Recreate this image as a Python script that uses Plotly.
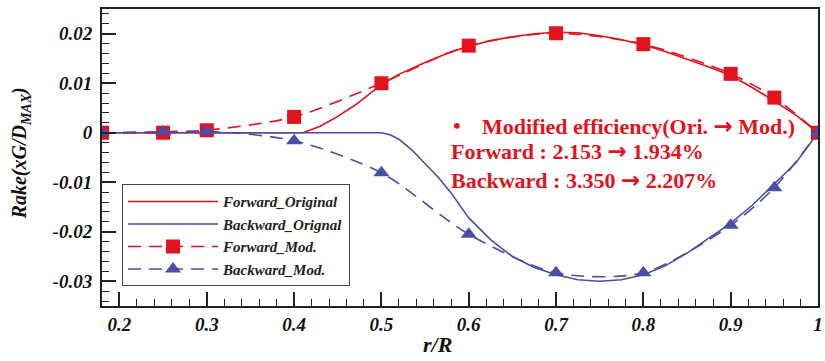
import plotly.graph_objects as go

# ---- data ----
r_mod = [0.18, 0.25, 0.3, 0.4, 0.5, 0.6, 0.7, 0.8, 0.9, 0.95, 1.0]
fwd_mod = [0.0, 0.0, 0.0005, 0.0032, 0.0100, 0.0176, 0.0201, 0.0179, 0.0119, 0.0071, 0.0]
bwd_mod = [0.0, 0.0002, 0.0003, -0.0016, -0.0081, -0.0205, -0.0283, -0.0283, -0.0187, -0.0111, 0.0]

r_fwd_orig = [0.18, 0.25, 0.3, 0.35, 0.41, 0.43, 0.45, 0.47, 0.49, 0.50, 0.52, 0.55, 0.575,
              0.60, 0.625, 0.65, 0.675, 0.70, 0.725, 0.75, 0.775, 0.80, 0.825, 0.85, 0.875,
              0.90, 0.925, 0.95, 0.975, 1.0]
fwd_orig = [0.0, 0.0, 0.0, 0.0, 0.0, 0.0013, 0.0033, 0.0056, 0.0083, 0.0097, 0.0118, 0.0142, 0.0160,
            0.0175, 0.0186, 0.0194, 0.0200, 0.0203, 0.0202, 0.0196, 0.0188, 0.0178, 0.0164, 0.0149, 0.0133,
            0.0116, 0.0091, 0.0064, 0.0035, 0.0]

r_bwd_orig = [0.18, 0.25, 0.3, 0.4, 0.5, 0.51, 0.52, 0.535, 0.55, 0.565, 0.58, 0.60, 0.625, 0.65,
              0.675, 0.70, 0.725, 0.75, 0.775, 0.80, 0.825, 0.85, 0.875, 0.90, 0.925, 0.95, 0.975, 1.0]
bwd_orig = [0.0, 0.0, 0.0, 0.0, 0.0, -0.0004, -0.0013, -0.0035, -0.0062, -0.0090, -0.0122, -0.0172,
            -0.0216, -0.0250, -0.0272, -0.0287, -0.0297, -0.0300, -0.0297, -0.0287, -0.0269, -0.0243,
            -0.0213, -0.0183, -0.0146, -0.0104, -0.0060, 0.0]

x_tickvals = [0.2, 0.3, 0.4, 0.5, 0.6, 0.7, 0.8, 0.9, 1.0]
x_ticktext = ["0.2", "0.3", "0.4", "0.5", "0.6", "0.7", "0.8", "0.9", "1"]
y_tickvals = [0.02, 0.01, 0.0, -0.01, -0.02, -0.03]
y_ticktext = ["0.02", "0.01", "0", "-0.01", "-0.02", "-0.03"]

x_title = "r/R"
y_title = "Rake(xG/D<sub>MAX</sub>)"

ARROW = "<span style='font-family:DejaVu Sans;font-size:23px'>\u2192</span>"
note_lines = ["Modified efficiency(Ori. " + ARROW + " Mod.)",
              "Forward : 2.153 " + ARROW + " 1.934%",
              "Backward : 3.350 " + ARROW + " 2.207%"]

RED = "#e3121c"
BLUE = "#4a4fa5"
SERIF = "Liberation Serif, Times New Roman, serif"

fig = go.Figure()
fig.add_trace(go.Scatter(x=r_fwd_orig, y=fwd_orig, mode="lines", name="Forward_Original",
                         line=dict(color=RED, width=1.6)))
fig.add_trace(go.Scatter(x=r_bwd_orig, y=bwd_orig, mode="lines", name="Backward_Orignal",
                         line=dict(color=BLUE, width=1.6)))
fig.add_trace(go.Scatter(x=r_mod, y=fwd_mod, mode="lines+markers", name="Forward_Mod.",
                         line=dict(color=RED, width=1.6, dash="13px,8px", shape="spline", smoothing=0.8),
                         marker=dict(symbol="square", size=14, color=RED)))
fig.add_trace(go.Scatter(x=r_mod, y=bwd_mod, mode="lines+markers", name="Backward_Mod.",
                         line=dict(color=BLUE, width=1.6, dash="13px,8px", shape="spline", smoothing=0.8),
                         marker=dict(symbol="triangle-up", size=14, color=BLUE)))

tickfont = dict(family=SERIF, size=19, color="#111", weight="bold", style="italic")
titlefont = dict(family=SERIF, size=22, color="#111", weight="bold", style="italic")

fig.update_xaxes(range=[0.18, 1.0], tickvals=x_tickvals, ticktext=x_ticktext,
                 ticks="inside", ticklen=14, tickwidth=2, tickcolor="#222",
                 minor=dict(ticks="inside", dtick=0.02, tick0=0.2, ticklen=7, tickwidth=1.2, tickcolor="#222"),
                 showline=True, linecolor="#222", linewidth=2, mirror=True,
                 showgrid=False, zeroline=False, tickfont=tickfont,
                 ticklabeloverflow="allow")
fig.update_yaxes(range=[-0.035, 0.025], tickvals=y_tickvals, ticktext=y_ticktext,
                 ticks="inside", ticklen=14, tickwidth=2, tickcolor="#222",
                 minor=dict(ticks="inside", dtick=0.002, tick0=0, ticklen=7, tickwidth=1.2, tickcolor="#222"),
                 showline=True, linecolor="#222", linewidth=2, mirror=True,
                 showgrid=False, zeroline=False, tickfont=tickfont, ticklabelstandoff=4)

fig.add_annotation(xref="paper", yref="paper", x=0.469, y=-0.131, xanchor="center", yanchor="middle",
                   text=x_title, showarrow=False, font=titlefont)
fig.add_annotation(xref="paper", yref="paper", x=-0.114, y=0.515, xanchor="center", yanchor="middle",
                   text=y_title, textangle=-90, showarrow=False,
                   font=dict(family=SERIF, size=20, color="#111", weight="bold", style="italic"))

notefont = dict(family=SERIF, size=22, color=RED, weight="bold")
fig.add_annotation(xref="paper", yref="paper", x=0.487, y=0.607, xanchor="left", yanchor="middle",
                   text="\u2022", showarrow=False, font=notefont)
fig.add_annotation(xref="paper", yref="paper", x=0.528, y=0.607, xanchor="left", yanchor="middle",
                   text=note_lines[0], showarrow=False, font=notefont)
fig.add_annotation(xref="paper", yref="paper", x=0.485, y=0.521, xanchor="left", yanchor="middle",
                   text=note_lines[1], showarrow=False, font=notefont)
fig.add_annotation(xref="paper", yref="paper", x=0.485, y=0.425, xanchor="left", yanchor="middle",
                   text=note_lines[2], showarrow=False, font=notefont)

fig.update_layout(
    width=825, height=361,
    margin=dict(l=102, r=2, t=9, b=55),
    paper_bgcolor="white", plot_bgcolor="white",
    legend=dict(x=0.028, y=0.41, xanchor="left", yanchor="top",
                bgcolor="white", bordercolor="#444", borderwidth=1,
                itemwidth=90, tracegroupgap=0,
                font=dict(family=SERIF, size=15, color="#222", style="italic", weight="bold")),
)

fig.write_html("out.html", config={"displayModeBar": False},
               post_script="document.body.style.margin='0';document.body.style.padding='0';")
